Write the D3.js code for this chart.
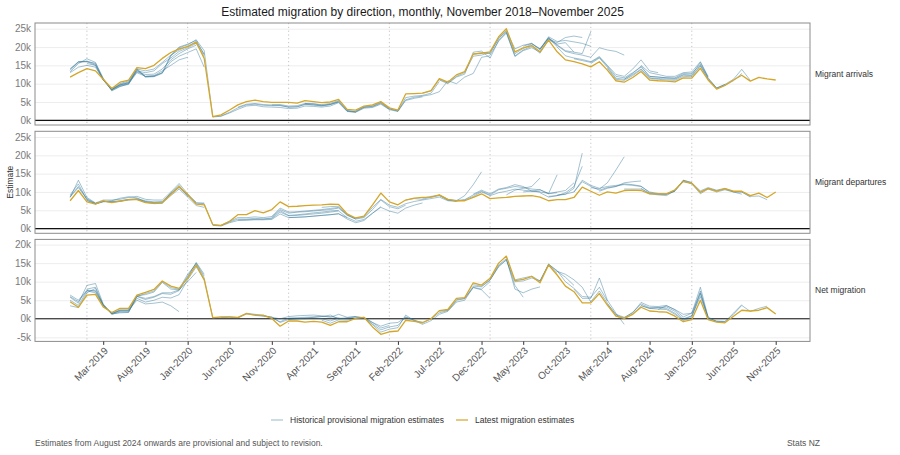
<!DOCTYPE html>
<html>
<head>
<meta charset="utf-8">
<script src="https://cdn.jsdelivr.net/npm/d3@7"></script>
<style>
  body { margin: 0; background: #fff; }
  text { font-family: "Liberation Sans", Arial, sans-serif; }
</style>
</head>
<body>
<div id="chart"></div>
<script>
// Months Nov 2018 .. Nov 2025 (85 months); values below are in thousands
const months = d3.timeMonth.range(new Date(2018, 10, 1), new Date(2025, 11, 1));

const tickLabels = ["Mar-2019", "Aug-2019", "Jan-2020", "Jun-2020", "Nov-2020", "Apr-2021",
  "Sep-2021", "Feb-2022", "Jul-2022", "Dec-2022", "May-2023", "Oct-2023", "Mar-2024",
  "Aug-2024", "Jan-2025", "Jun-2025", "Nov-2025"];
const yearLines = ["Jan-2019", "Jan-2020", "Jan-2021", "Jan-2022", "Jan-2023", "Jan-2024", "Jan-2025"];

const flowTicks = [0, 5, 10, 15, 20, 25];
const netTicks = [-5, 0, 5, 10, 15, 20];

const panelLabels = ["Migrant arrivals", "Migrant departures", "Net migration"];

// latest estimates
const latestArrivals = [
  11.8, 13.0, 14.1, 13.5, 11.2, 8.7, 10.4, 11.0, 14.4, 14.1, 15.0, 16.9,
  18.5, 19.5, 20.1, 21.3, 16.9, 1.0, 1.5, 2.8, 4.2, 5.1, 5.5, 5.1,
  4.9, 4.9, 4.9, 4.7, 5.4, 5.1, 4.8, 5.0, 5.7, 3.0, 2.8, 3.9,
  4.2, 5.1, 3.4, 2.8, 7.2, 7.3, 7.4, 8.1, 11.4, 10.4, 12.4, 13.3,
  18.1, 18.3, 18.7, 22.8, 25.0, 18.7, 19.8, 20.4, 18.7, 21.9, 18.7, 16.5,
  16.0, 15.4, 14.6, 16.0, 13.7, 10.8, 10.4, 11.7, 13.3, 11.0, 10.8, 10.7,
  10.5, 11.6, 11.5, 14.2, 11.0, 8.5, 9.5, 11.0, 12.3, 10.7, 11.7, 11.3,
  11.0
];
const latestDepartures = [
  7.6, 10.4, 7.3, 6.7, 7.6, 7.1, 7.5, 7.9, 7.9, 7.1, 6.9, 7.1,
  9.3, 11.5, 9.3, 6.7, 6.5, 1.1, 0.9, 2.0, 3.8, 3.8, 4.9, 4.3,
  5.2, 7.3, 6.0, 6.1, 6.3, 6.4, 6.5, 6.7, 6.6, 4.0, 2.9, 3.4,
  6.5, 9.7, 7.3, 6.5, 7.8, 8.3, 8.5, 8.6, 9.2, 8.0, 7.6, 7.6,
  8.5, 9.5, 8.2, 8.4, 8.5, 8.8, 8.9, 9.0, 8.6, 7.6, 7.9, 7.9,
  8.5, 11.3, 10.2, 9.1, 10.0, 9.7, 10.4, 10.5, 10.4, 9.5, 9.5, 9.5,
  10.6, 12.9, 12.4, 9.9, 10.9, 10.2, 10.9, 10.2, 10.2, 9.0, 9.7, 8.5,
  10.0
];
const latestNet = [
  4.6, 3.1, 6.4, 6.6, 3.2, 1.7, 2.8, 2.8, 6.4, 7.1, 7.9, 10.2,
  8.8, 8.2, 10.9, 14.5, 10.5, 0.3, 0.5, 0.5, 0.4, 1.4, 1.0, 0.9,
  0.1, -2.0, -0.6, -0.6, -0.9, -0.7, -0.9, -1.8, -0.8, -0.8, 0.1, 0.4,
  -2.2, -4.2, -3.5, -3.3, -0.4, -0.7, -1.0, 0.0, 2.2, 2.5, 5.5, 5.7,
  9.7, 9.1, 10.9, 15.0, 16.9, 10.3, 10.6, 11.4, 9.7, 14.5, 11.8, 8.8,
  7.3, 4.3, 4.3, 6.8, 3.7, 0.7, 0.1, 1.2, 3.1, 2.1, 1.9, 1.8,
  0.7, -0.8, -0.2, 5.0, -0.2, -0.9, -1.1, 0.7, 2.3, 2.1, 2.3, 3.0,
  1.3
];

// historical provisional estimates: from = index of first month
const histArrivals = [
  { from: 0, values: [13.9, 15.8, 16.2, 15.3, 11.3, 8.3, 9.5, 10.0, 13.9, 11.8, 11.9, 12.8, 17.5, 19.8, 20.6, 22.0, 19.0] },
  { from: 0, values: [14.1, 16.0, 16.0, 15.6, 11.0, 8.4, 9.7, 10.2, 14.1, 12.0, 12.1, 13.0, 17.8, 20.0, 20.8, 21.8, 18.0] },
  { from: 0, values: [13.6, 16.0, 16.0, 15.0, 11.0, 8.2, 9.3, 9.8, 13.6, 11.9, 12.0, 13.0, 16.0, 17.5, 18.5, 19.5, 14.5] },
  { from: 0, values: [13.0, 14.5, 15.0, 14.5, 11.0, 8.5, 9.6, 10.3, 13.2, 12.5, 12.6, 14.0, 16.5, 18.2, 19.5, 20.5] },
  { from: 0, values: [13.2, 15.5, 16.8, 15.8, 11.5, 8.0, 9.2, 10.0, 13.0, 12.0, 12.2, 13.5, 15.0, 16.5, 17.2] },
  { from: 2, values: [15.5, 15.0, 11.2, 8.4, 9.8, 10.5, 13.5, 13.0, 13.5, 15.5, 17.0, 18.8, 19.8, 21.0, 17.5] },
  { from: 4, values: [11.0, 8.6, 10.0, 10.8, 14.0, 13.5, 14.0, 15.8, 17.8, 19.2, 20.2, 21.5, 18.0] },
  { from: 16, values: [19.0, 1.0, 1.2, 2.2, 3.4, 4.2, 4.4, 4.1, 4.0, 4.0, 3.6, 3.7, 4.4, 4.2, 4.0, 4.3, 5.0] },
  { from: 17, values: [0.9, 1.1, 2.0, 3.0, 3.9, 4.1, 3.7, 3.6, 3.5, 3.2, 3.3, 3.9, 3.8, 3.6, 3.9, 4.8, 2.4, 2.2] },
  { from: 20, values: [3.6, 4.4, 4.6, 4.3, 4.2, 4.3, 3.9, 4.0, 4.6, 4.5, 4.1, 4.4, 5.2, 2.6, 2.3, 3.5, 3.7, 4.6, 3.0] },
  { from: 24, values: [4.2, 4.1, 3.6, 3.7, 4.3, 4.2, 3.9, 4.3, 5.0, 2.5, 2.2, 3.3, 3.5, 4.4, 2.9, 2.4, 5.4, 6.0, 6.4] },
  { from: 28, values: [4.6, 4.5, 4.3, 4.6, 5.4, 2.7, 2.4, 3.6, 3.8, 4.8, 3.1, 2.5, 6.2, 6.6, 6.8, 7.4, 10.6] },
  { from: 34, values: [2.6, 3.7, 4.0, 4.9, 3.2, 2.6, 5.6, 6.3, 6.6, 7.0, 7.8, 10.8, 10.0, 11.8, 12.8, 17.2, 17.6] },
  { from: 42, values: [7.4, 8.0, 11.2, 10.2, 12.0, 13.0, 17.5, 17.8, 18.5, 22.2, 24.5, 19.5, 20.5, 21.0, 19.5, 22.4, 20.1] },
  { from: 44, values: [11.0, 10.0, 11.8, 12.6, 18.6, 18.9, 17.0, 21.8, 24.0, 17.6, 19.2, 20.2, 18.3, 22.0, 20.8, 21.2, 18.6] },
  { from: 48, values: [18.0, 18.5, 18.2, 22.5, 24.2, 18.2, 19.6, 20.8, 19.5, 22.8, 21.5, 21.8, 21.4, 21.0, 20.2] },
  { from: 50, values: [17.8, 21.6, 23.8, 17.4, 19.0, 19.8, 18.6, 22.2, 21.2, 22.6, 23.0, 22.6] },
  { from: 54, values: [20.2, 21.0, 19.2, 22.6, 20.6, 19.0, 18.6, 18.2, 24.2] },
  { from: 56, values: [19.4, 22.5, 20.4, 18.8, 18.2, 17.8, 17.2, 19.8, 19.2, 18.8, 17.8] },
  { from: 58, values: [20.0, 17.6, 17.0, 16.6, 16.0, 17.4, 15.0] },
  { from: 60, values: [16.8, 16.3, 15.8, 17.2, 14.8, 12.0, 11.6, 13.0, 14.5, 12.0, 11.8, 11.6, 11.6, 12.8, 12.8, 15.3, 11.8] },
  { from: 62, values: [15.5, 17.0, 14.5, 11.5, 11.2, 12.5, 14.0, 11.6, 11.4, 11.3, 11.2, 12.3, 12.2, 15.0, 11.4, 8.8, 9.8] },
  { from: 64, values: [14.2, 11.2, 10.9, 12.2, 13.8, 11.5, 11.2, 11.0, 10.9, 12.0, 11.9, 14.8, 11.2, 8.7, 9.6, 10.8, 12.8] },
  { from: 64, values: [15.0, 12.5, 12.0, 14.0, 16.5, 13.5, 13.0] },
  { from: 66, values: [11.2, 12.8, 14.8, 12.0, 11.8, 11.6, 11.4, 12.5, 12.4, 15.8, 11.6, 8.8, 9.8, 11.2, 13.9, 10.9] },
  { from: 68, values: [15.0, 13.0, 12.5, 12.0, 12.0, 13.0, 13.2, 16.0, 12.0] }
];
const histDepartures = [
  { from: 0, values: [8.8, 11.5, 8.2, 6.9, 7.5, 7.4, 7.6, 8.0, 8.2, 7.6, 7.3, 7.4, 9.6, 11.2, 9.0, 7.0, 7.0] },
  { from: 0, values: [8.6, 11.2, 8.0, 6.8, 7.4, 7.3, 7.5, 7.9, 8.0, 7.4, 7.1, 7.2, 9.5, 11.3, 9.2, 7.0, 6.8] },
  { from: 0, values: [8.5, 13.2, 8.5, 7.0, 7.8, 7.8, 8.0, 8.5, 8.8, 8.0, 7.8, 7.8, 10.0, 12.3, 9.5, 7.2] },
  { from: 0, values: [9.2, 12.2, 7.8, 6.7, 7.3, 7.6, 8.3, 8.7, 8.4, 7.3, 7.0, 7.0, 9.8, 11.8, 8.8] },
  { from: 2, values: [7.6, 6.8, 7.4, 7.2, 7.4, 7.8, 8.0, 7.2, 6.8, 6.9, 9.0, 10.8, 8.6, 6.3, 5.8] },
  { from: 16, values: [6.8, 1.0, 0.8, 1.8, 2.6, 2.6, 2.8, 2.6, 2.9, 4.9, 3.6, 3.8, 4.0, 4.3, 4.5, 4.8, 5.0] },
  { from: 17, values: [0.9, 0.7, 1.6, 2.2, 2.3, 2.4, 2.4, 2.5, 4.0, 3.0, 3.1, 3.2, 3.4, 3.6, 3.8, 4.0, 3.0] },
  { from: 18, values: [0.9, 2.0, 3.0, 3.0, 3.2, 3.0, 3.3, 5.6, 4.5, 4.6, 4.8, 5.0, 5.2, 5.5, 5.8, 3.8, 2.6] },
  { from: 20, values: [2.4, 2.4, 2.5, 2.6, 2.7, 4.5, 3.5, 3.6, 3.8, 4.0, 4.2, 4.5, 4.8, 3.0, 2.0, 2.5, 4.2, 6.0] },
  { from: 24, values: [3.2, 5.2, 4.2, 4.5, 4.6, 4.8, 5.0, 5.2, 5.6, 3.6, 2.6, 3.0, 5.2, 7.8, 6.0, 5.4, 6.4] },
  { from: 26, values: [3.0, 3.1, 3.2, 3.4, 3.6, 3.8, 4.1, 2.6, 1.6, 2.2, 4.2, 5.8, 4.8, 4.2, 5.6, 6.4, 7.0] },
  { from: 30, values: [5.8, 6.0, 6.1, 3.8, 2.8, 3.2, 5.8, 8.0, 6.4, 5.8, 6.8, 7.4, 7.8, 8.2, 8.6, 7.6, 7.4] },
  { from: 40, values: [7.8, 8.2, 8.0, 8.6, 9.0, 7.8, 7.6, 9.0, 12.0, 15.5] },
  { from: 42, values: [8.3, 8.8, 9.1, 7.8, 7.5, 7.8, 8.8, 10.0, 9.0, 9.8, 10.2, 10.8, 10.5, 10.2, 10.0] },
  { from: 44, values: [9.2, 8.0, 7.7, 7.9, 9.2, 10.2, 9.2, 10.6, 11.0, 11.5, 11.2, 10.8, 10.6, 9.5, 9.8] },
  { from: 48, values: [9.4, 10.5, 9.5, 10.8, 11.2, 12.0, 11.5, 10.2, 10.6, 9.6, 10.0, 10.4, 12.5] },
  { from: 52, values: [9.2, 10.5, 11.0, 11.5, 13.8] },
  { from: 54, values: [10.0, 10.3, 10.0, 9.6, 14.7] },
  { from: 56, values: [9.8, 8.6, 9.0, 9.4, 11.0, 20.6] },
  { from: 57, values: [8.8, 9.0, 9.8, 11.5, 17.0] },
  { from: 58, values: [9.2, 9.4, 10.0, 13.2, 11.8, 11.0, 11.5, 11.8, 12.0, 11.8, 11.5, 10.0, 9.6, 9.5, 10.2] },
  { from: 60, values: [10.0, 12.8, 11.5, 10.5, 11.2, 11.5, 12.2, 12.0, 11.6, 9.8, 9.4, 9.3, 10.2, 13.2, 12.6] },
  { from: 62, values: [11.2, 10.8, 12.5, 16.0, 19.6] },
  { from: 63, values: [10.2, 11.0, 11.5, 12.5, 12.8, 13.0] },
  { from: 66, values: [10.8, 10.8, 10.8, 9.6, 9.4, 9.4, 10.5, 13.2, 12.5, 10.3, 11.2, 10.5, 11.0, 10.1, 10.0, 8.6] },
  { from: 68, values: [11.0, 9.5, 9.2, 9.0, 10.4, 12.8, 12.2, 9.5, 10.8, 10.0, 10.6, 10.0, 9.4] },
  { from: 72, values: [10.4, 13.0, 12.3, 10.0, 11.0, 10.3, 10.8, 10.0, 10.0, 8.8, 8.9, 7.9] }
];
const histNet = [
  { from: 0, values: [6.4, 5.0, 7.7, 7.6, 3.8, 1.2, 1.8, 1.8, 6.0, 5.2, 5.8, 6.8, 6.6, 7.6, 11.2, 15.2, 12.0] },
  { from: 0, values: [6.0, 4.6, 7.6, 7.4, 3.6, 1.3, 1.6, 1.7, 6.1, 5.5, 6.0, 7.0, 7.0, 7.8, 11.5, 15.0, 11.5] },
  { from: 0, values: [5.8, 4.2, 9.0, 9.5, 4.0, 1.4, 2.2, 2.0, 5.5, 4.5, 5.0, 5.8, 5.6, 6.5, 10.5, 14.0, 10.5] },
  { from: 0, values: [3.5, 3.0, 7.0, 8.2, 3.6, 1.6, 2.4, 2.3, 5.0, 4.0, 4.2, 4.5, 3.5, 1.9] },
  { from: 0, values: [5.0, 3.6, 7.5, 7.0, 3.5, 1.5, 2.0, 2.2, 6.2, 6.5, 7.2, 9.8, 8.0, 7.8, 10.0, 12.5] },
  { from: 2, values: [8.0, 8.5, 3.8, 1.3, 2.3, 2.4, 6.0, 6.8, 7.5, 10.0, 8.4, 8.0, 12.0, 14.8, 11.0] },
  { from: 16, values: [11.0, 0.2, 0.4, 0.5, 0.3, 1.5, 1.2, 1.0, 0.2, -0.8, 0.2, 0.3, 0.4, 0.5, 0.6, 0.6, 0.2] },
  { from: 18, values: [0.3, 0.4, 0.2, 1.3, 1.0, 0.8, 0.5, -1.0, -0.2, 0.0, 0.2, 0.4, 0.6, 1.0, 0.0, 0.3, 0.6] },
  { from: 22, values: [0.9, 0.7, 0.4, 0.0, 0.6, 0.8, 0.9, 1.0, 0.8, 0.4, 1.2, 0.4, 0.6, 0.3, -1.0, -2.5, -1.8] },
  { from: 26, values: [-0.2, 0.0, 0.0, 0.2, 0.0, -0.6, 0.2, 0.0, 0.5, 0.2, -1.6, -3.6, -2.8, -2.4, 1.0, -0.5, -1.0] },
  { from: 30, values: [-0.4, -1.2, -0.3, -0.4, 0.2, 0.3, -1.4, -3.0, -2.2, -1.8, 0.5, -0.3, -1.2, 0.0, 1.6, 2.2, 4.8] },
  { from: 34, values: [0.2, 0.4, -1.0, -2.0, -1.2, -1.0, 0.4, -0.5, -1.5, -0.5, 1.2, 2.0, 4.5, 5.0, 8.5, 8.0, 10.0] },
  { from: 44, values: [2.0, 2.3, 5.0, 5.4, 8.8, 8.6, 10.4, 14.2, 15.8, 10.0, 10.2, 11.0, 10.2, 14.6, 12.4] },
  { from: 46, values: [5.2, 5.5, 8.4, 7.8, 5.5] },
  { from: 48, values: [9.2, 8.8, 10.5, 14.0, 16.0, 9.0, 5.8] },
  { from: 50, values: [10.6, 14.5, 16.2, 8.0, 7.0, 8.0, 8.6] },
  { from: 53, values: [10.5, 11.0, 11.5, 10.2, 14.8, 12.8, 11.2, 9.0] },
  { from: 56, values: [10.0, 14.6, 13.0, 10.0, 8.2, 6.0, 5.8, 8.5, 4.8] },
  { from: 58, values: [12.8, 12.0, 10.5, 8.5, 4.5] },
  { from: 60, values: [8.0, 5.5, 5.5, 11.0, 5.0, 1.5, -1.5] },
  { from: 62, values: [4.6, 7.5, 4.2, 1.0, 0.2, 1.8, 4.0, 3.0, 3.0, 2.8, 1.5, -0.3, 0.8, 6.0, 0.2] },
  { from: 64, values: [4.0, 1.2, 0.4, 1.6, 4.4, 3.4, 3.3, 3.6, 2.4, 0.5, 1.5, 8.5, 0.5, -0.8, -0.9] },
  { from: 66, values: [0.0, 1.3, 3.5, 2.8, 2.6, 2.5, 1.2, -0.5, 0.4, 6.8, 0.0, -0.7, -0.8, 1.5, 3.8] },
  { from: 68, values: [3.6, 2.8, 3.0, 3.2, 2.0, 0.0, 0.8, 7.5, 0.2, -0.6, -0.7, 1.2, 3.6, 2.0, 2.8, 3.4] },
  { from: 70, values: [2.5, 3.5, 2.5, 1.2, 1.5, 7.0, 0.5] }
];

const panels = [
  { label: panelLabels[0], latest: latestArrivals, hist: histArrivals, top: 23, domain: [-1.28, 26.56], ticks: flowTicks },
  { label: panelLabels[1], latest: latestDepartures, hist: histDepartures, top: 131.3, domain: [-1.28, 26.56], ticks: flowTicks },
  { label: panelLabels[2], latest: latestNet, hist: histNet, top: 239.4, domain: [-6.1, 21.4], ticks: netTicks }
];

const W = 900, H = 455;
const panelLeft = 35, panelRight = 810, panelH = 102;
const histColor = "#2f7396", goldColor = "#d4a62a";
const parseLabel = d3.timeParse("%b-%Y");

const svg = d3.select("#chart").append("svg")
  .attr("width", W)
  .attr("height", H);

const x = d3.scaleTime()
  .domain([months[0], months[months.length - 1]])
  .range([70.1, 775.7]);

// title
svg.append("text")
  .attr("x", (panelLeft + panelRight) / 2)
  .attr("y", 15.5)
  .attr("text-anchor", "middle")
  .style("font-size", "12px")
  .attr("fill", "#1a1a1a")
  .text("Estimated migration by direction, monthly, November 2018\u2013November 2025");

panels.forEach(p => {
  const g = svg.append("g").attr("transform", `translate(0,${p.top})`);
  const y = d3.scaleLinear().domain(p.domain).range([panelH, 0]);

  // horizontal grid
  g.append("g")
    .attr("transform", `translate(${panelLeft},0)`)
    .call(d3.axisLeft(y).tickValues(p.ticks).tickSize(-(panelRight - panelLeft)).tickFormat(""))
    .call(a => a.select(".domain").remove())
    .selectAll("line")
    .attr("stroke", "#ebebeb")
    .attr("stroke-width", 0.9);

  // y tick labels
  g.append("g")
    .attr("transform", `translate(${panelLeft},0)`)
    .attr("font-family", "Liberation Sans, Arial, sans-serif")
    .attr("font-size", 7.6)
    .call(d3.axisLeft(y).tickValues(p.ticks).tickSize(0).tickPadding(4).tickFormat(d => `${d}k`))
    .call(a => a.select(".domain").remove())
    .selectAll("text")
    .attr("fill", "#7a7a7a");

  // dotted year lines
  g.selectAll(".year-line")
    .data(yearLines)
    .enter()
    .append("line")
    .attr("class", "year-line")
    .attr("x1", d => x(parseLabel(d)))
    .attr("x2", d => x(parseLabel(d)))
    .attr("y1", 0)
    .attr("y2", panelH)
    .attr("stroke", "#c4c4c4")
    .attr("stroke-width", 1)
    .attr("stroke-dasharray", "1.2,2.6");

  // zero line
  g.append("line")
    .attr("x1", panelLeft)
    .attr("x2", panelRight)
    .attr("y1", y(0))
    .attr("y2", y(0))
    .attr("stroke", "#111")
    .attr("stroke-width", 1.2);

  const line = d3.line()
    .x(d => x(d.date))
    .y(d => y(d.value));

  // historical provisional lines
  g.selectAll(".hist")
    .data(p.hist)
    .enter()
    .append("path")
    .attr("class", "hist")
    .attr("d", h => line(h.values.map((v, i) => ({ date: months[h.from + i], value: v }))))
    .attr("fill", "none")
    .attr("stroke", histColor)
    .attr("stroke-opacity", 0.55)
    .attr("stroke-width", 0.8);

  // latest estimates
  g.append("path")
    .datum(p.latest.map((v, i) => ({ date: months[i], value: v })))
    .attr("d", line)
    .attr("fill", "none")
    .attr("stroke", goldColor)
    .attr("stroke-width", 1.3)
    .attr("stroke-linejoin", "round");

  // panel border
  g.append("rect")
    .attr("x", panelLeft)
    .attr("y", 0)
    .attr("width", panelRight - panelLeft)
    .attr("height", panelH)
    .attr("fill", "none")
    .attr("stroke", "#8c8c8c")
    .attr("stroke-width", 1);

  // strip label
  g.append("text")
    .attr("x", 815)
    .attr("y", panelH / 2)
    .attr("dy", "0.35em")
    .style("font-size", "8.5px")
    .attr("fill", "#333")
    .text(p.label);
});

// x axis under the last panel
const last = panels[panels.length - 1];
const xAxis = svg.append("g")
  .attr("transform", `translate(0,${last.top + panelH})`)
  .attr("font-family", "Liberation Sans, Arial, sans-serif")
  .attr("font-size", 7.6)
  .call(d3.axisBottom(x).tickValues(tickLabels.map(parseLabel)).tickSize(3.5).tickFormat(d3.timeFormat("%b-%Y")));
xAxis.select(".domain").remove();
xAxis.selectAll("line").attr("stroke", "#333");
xAxis.selectAll("text")
  .attr("fill", "#555")
  .attr("text-anchor", "end")
  .attr("x", -3.5)
  .attr("y", 7)
  .attr("dy", "0.35em")
  .attr("transform", "rotate(-45)");

// y axis title
svg.append("text")
  .attr("transform", `translate(12.5,${(panels[0].top + last.top + panelH) / 2}) rotate(-90)`)
  .attr("text-anchor", "middle")
  .style("font-size", "8.5px")
  .attr("fill", "#333")
  .text("Estimate");

// legend
const legend = svg.append("g").attr("transform", "translate(0,420)");
const legendItems = [
  { label: "Historical provisional migration estimates", color: "#a8c5d3", x: 271 },
  { label: "Latest migration estimates", color: goldColor, x: 456 }
];
legendItems.forEach(d => {
  legend.append("line")
    .attr("x1", d.x).attr("x2", d.x + 12)
    .attr("y1", 0).attr("y2", 0)
    .attr("stroke", d.color)
    .attr("stroke-width", 1.2);
  legend.append("text")
    .attr("x", d.x + 19)
    .attr("y", 0)
    .attr("dy", "0.35em")
    .style("font-size", "8.5px")
    .attr("fill", "#333")
    .text(d.label);
});

// caption
svg.append("text")
  .attr("x", panelLeft)
  .attr("y", 446)
  .style("font-size", "8.5px")
  .attr("fill", "#555")
  .text("Estimates from August 2024 onwards are provisional and subject to revision.");
svg.append("text")
  .attr("x", 820)
  .attr("y", 446)
  .attr("text-anchor", "end")
  .style("font-size", "8.5px")
  .attr("fill", "#555")
  .text("Stats NZ");
</script>
</body>
</html>
